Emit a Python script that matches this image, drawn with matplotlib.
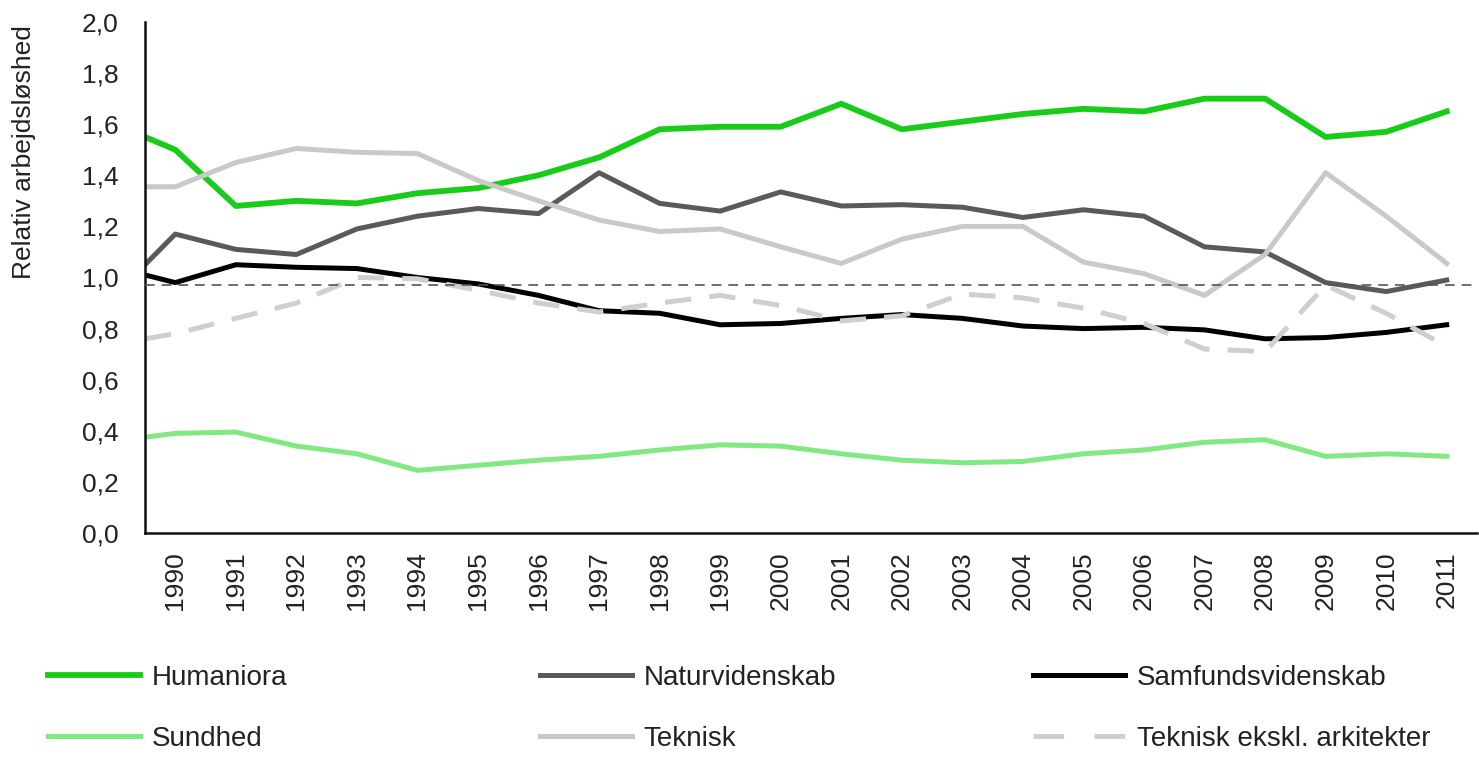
import matplotlib
matplotlib.use("Agg")
import matplotlib.pyplot as plt
from matplotlib.lines import Line2D

plt.rcParams['font.family'] = ['Liberation Sans', 'DejaVu Sans']
plt.rcParams['lines.scale_dashes'] = False

# x positions: first point sits at the axis start (half a category before 1990)
x_points = [1989.5, 1990, 1991, 1992, 1993, 1994, 1995, 1996, 1997, 1998, 1999, 2000,
            2001, 2002, 2003, 2004, 2005, 2006, 2007, 2008, 2009, 2010, 2011]
tick_years = [1990, 1991, 1992, 1993, 1994, 1995, 1996, 1997, 1998, 1999, 2000,
              2001, 2002, 2003, 2004, 2005, 2006, 2007, 2008, 2009, 2010, 2011]

humaniora = [1.55, 1.50, 1.28, 1.30, 1.29, 1.33, 1.35, 1.40, 1.47, 1.58, 1.59, 1.59,
             1.68, 1.58, 1.61, 1.64, 1.66, 1.65, 1.70, 1.70, 1.55, 1.57, 1.65]
naturvidenskab = [1.05, 1.17, 1.11, 1.09, 1.19, 1.24, 1.27, 1.25, 1.41, 1.29, 1.26, 1.335,
                  1.28, 1.285, 1.275, 1.235, 1.265, 1.24, 1.12, 1.10, 0.98, 0.945, 0.99]
samfund = [1.01, 0.98, 1.05, 1.04, 1.035, 1.00, 0.975, 0.93, 0.87, 0.86, 0.815, 0.82,
           0.84, 0.855, 0.84, 0.81, 0.80, 0.805, 0.795, 0.76, 0.765, 0.785, 0.815]
sundhed = [0.375, 0.39, 0.395, 0.34, 0.31, 0.245, 0.265, 0.285, 0.30, 0.325, 0.345, 0.34,
           0.31, 0.285, 0.275, 0.28, 0.31, 0.325, 0.355, 0.365, 0.30, 0.31, 0.30]
teknisk = [1.355, 1.355, 1.45, 1.505, 1.49, 1.485, 1.38, 1.30, 1.225, 1.18, 1.19, 1.12,
           1.055, 1.15, 1.20, 1.20, 1.06, 1.015, 0.93, 1.09, 1.41, 1.24, 1.055]
teknisk_ex = [0.76, 0.78, 0.84, 0.90, 1.00, 0.995, 0.95, 0.90, 0.865, 0.90, 0.93, 0.89,
              0.83, 0.85, 0.935, 0.92, 0.88, 0.82, 0.72, 0.71, 0.97, 0.86, 0.73]
reference_level = 0.97

labels = ["Humaniora", "Naturvidenskab", "Samfundsvidenskab",
          "Sundhed", "Teknisk", "Teknisk ekskl. arkitekter"]

fig = plt.figure(figsize=(14.79, 7.58), dpi=100)
ax = fig.add_axes([145/1479, 1 - 533/758, (1477 - 145)/1479, (533 - 22)/758])

lw = 3.6
h1, = ax.plot(x_points, humaniora, color='#19cc19', lw=4.2, solid_joinstyle='round')
h2, = ax.plot(x_points, naturvidenskab, color='#5a5a5a', lw=lw, solid_joinstyle='round')
h3, = ax.plot(x_points, samfund, color='#000000', lw=lw, solid_joinstyle='round')
h4, = ax.plot(x_points, sundhed, color='#82e882', lw=lw, solid_joinstyle='round')
h5, = ax.plot(x_points, teknisk, color='#c9c9c9', lw=lw, solid_joinstyle='round')
h6, = ax.plot(x_points, teknisk_ex, color='#cfcfcf', lw=lw, dashes=(19, 13))
ax.axhline(reference_level, color='#555555', lw=1.2, dashes=(7, 5), zorder=5)

ax.set_xlim(1989.5, 2011.5)
ax.set_ylim(0, 2.0)
ax.set_xticks(tick_years)
ax.set_xticklabels([str(y) for y in tick_years], rotation=90, fontsize=19, color='#222222')
yt = [0.0, 0.2, 0.4, 0.6, 0.8, 1.0, 1.2, 1.4, 1.6, 1.8, 2.0]
ax.set_yticks(yt)
ax.set_yticklabels([f"{v:.1f}".replace('.', ',') for v in yt], fontsize=19, color='#222222')
ax.tick_params(axis='x', length=0, pad=13)
ax.tick_params(axis='y', length=0, pad=19)
for s in ['top', 'right']:
    ax.spines[s].set_visible(False)
for s in ['left', 'bottom']:
    ax.spines[s].set_linewidth(1.8)
    ax.spines[s].set_color('#111111')
ax.set_ylabel("Relativ arbejdsløshed", fontsize=19, color='#222222')
ax.yaxis.set_label_coords(-0.082, 0.745)

handles = [h1, h2, h3, h4, h5, h6]
leg_x = [48/1479, 540/1479, 1033/1479]
for col in range(3):
    hs = [handles[col], handles[col + 3]]
    ls = [labels[col], labels[col + 3]]
    if col == 2:
        hs = [h3, Line2D([], [], color='#cfcfcf', lw=lw, dashes=(22, 22))]
    leg = fig.legend(hs, ls, loc='upper left', bbox_to_anchor=(leg_x[col], 1 - 665/758),
                     frameon=False, fontsize=20, handlelength=3.3, handletextpad=0.43,
                     labelspacing=1.25, borderaxespad=0, borderpad=0)
    for t in leg.get_texts():
        t.set_color('#222222')

fig.savefig("out.png", dpi=100)
